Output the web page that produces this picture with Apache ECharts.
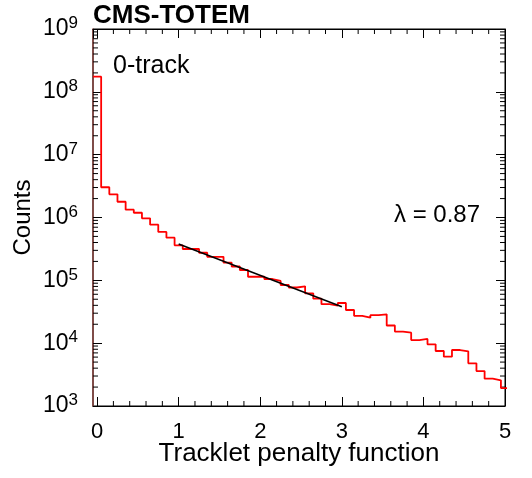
<!DOCTYPE html>
<html>
<head>
<meta charset="utf-8">
<script src="https://cdn.jsdelivr.net/npm/echarts@6/dist/echarts.min.js"></script>
<style>
  html, body { margin: 0; padding: 0; background: #fff; }
  #chart { width: 532px; height: 478px; }
</style>
</head>
<body>
<div id="chart"></div>
<script>
// bin width 0.1, bins centred on 0.0 ... 5.0
const binWidth = 0.1;
const binCenters = Array.from({ length: 51 }, (_, i) => +(i * binWidth).toFixed(2));
const counts = [
  1.74e8, 3.03e6, 2.34e6, 1.78e6, 1.33e6, 1.19e6, 9.7e5, 7.7e5, 5.9e5, 4.77e5,
  3.61e5, 3.15e5, 3.15e5, 2.75e5, 2.37e5, 2.37e5, 1.91e5, 1.66e5, 1.46e5, 1.14e5,
  1.14e5, 1.05e5, 9.76e4, 8.43e4, 7.69e4, 8.03e4, 6.21e4, 5.10e4, 4.17e4, 3.97e4,
  4.36e4, 3.37e4, 2.72e4, 2.54e4, 2.79e4, 2.88e4, 1.91e4, 1.53e4, 1.47e4, 1.12e4,
  1.17e4, 9.59e3, 7.50e3, 6.09e3, 7.78e3, 7.42e3, 4.78e3, 3.60e3, 2.72e3, 2.56e3,
  1.93e3
];
// exponential fit, drawn between its two end points (straight on log axis)
const fitX = [1.0, 3.0];
const fitY = [3.78e5, 3.79e4];

const xTickLabels = ["0", "1", "2", "3", "4", "5"];

// step outline from bin edges
const histData = binCenters.map((c, i) => [+(c - binWidth / 2).toFixed(3), counts[i]]);
histData.push([+(binCenters[binCenters.length - 1] + binWidth / 2).toFixed(3), counts[counts.length - 1]]);

// minor ticks
const xMinor = [];
for (let v = 0.2; v < 5; v += 0.2) {
  if (Math.abs(v - Math.round(v)) > 1e-6) xMinor.push(+v.toFixed(2));
}
const yMinor = [];
for (let e = 3; e < 9; e++) {
  for (let m = 2; m <= 9; m++) yMinor.push(m * Math.pow(10, e));
}

const FONT = "Liberation Sans, Arial, Helvetica, sans-serif";

const myChart = echarts.init(document.getElementById("chart"), null, { renderer: "canvas" });

const axisLineStyle = { color: "#000", width: 1 };

const option = {
  backgroundColor: "#fff",
  animation: false,
  grid: { left: 93, right: 27, top: 29, bottom: 72, show: true, borderColor: "#000", borderWidth: 1 },
  xAxis: [
    {
      type: "value",
      min: -0.05,
      max: 5,
      splitNumber: 5,
      position: "bottom",
      name: "Tracklet penalty function",
      nameLocation: "middle",
      nameGap: 35,
      nameMoveOverlap: false,
      nameTextStyle: { fontFamily: FONT, fontSize: 26, color: "#000" },
      axisLine: { show: true, onZero: false, lineStyle: axisLineStyle },
      axisTick: { show: true, inside: true, length: 9, lineStyle: { color: "#000" } },
      axisLabel: {
        showMinLabel: false,
        margin: 15,
        fontFamily: FONT,
        fontSize: 22,
        color: "#000",
        formatter: (v) => (Math.abs(v - Math.round(v)) < 1e-6 && v >= 0 ? xTickLabels[Math.round(v)] : "")
      },
      splitLine: { show: false }
    },
    {
      type: "value",
      min: -0.05,
      max: 5,
      splitNumber: 5,
      position: "top",
      axisLine: { show: true, onZero: false, lineStyle: axisLineStyle },
      axisTick: { show: true, inside: true, length: 9, lineStyle: { color: "#000" } },
      axisLabel: { show: false },
      splitLine: { show: false }
    }
  ],
  yAxis: [
    {
      type: "log",
      logBase: 10,
      min: 1e3,
      max: 1e9,
      position: "left",
      name: "Counts",
      nameLocation: "middle",
      nameGap: 58,
      nameMoveOverlap: false,
      nameTextStyle: { fontFamily: FONT, fontSize: 24, color: "#000" },
      axisLine: { show: true, onZero: false, lineStyle: { color: "#7f3b36", width: 1.5 } },
      axisTick: { show: true, inside: true, length: 9, lineStyle: { color: "#000" } },
      axisLabel: {
        margin: 15,
        formatter: (v) => "{b|10}{s|" + Math.round(Math.log10(v)) + "}",
        rich: {
          b: { fontFamily: FONT, fontSize: 23, color: "#000", lineHeight: 28 },
          s: { fontFamily: FONT, fontSize: 17, color: "#000", lineHeight: 14, verticalAlign: "top" }
        }
      },
      splitLine: { show: false }
    },
    {
      type: "log",
      logBase: 10,
      min: 1e3,
      max: 1e9,
      position: "right",
      axisLine: { show: true, onZero: false, lineStyle: axisLineStyle },
      axisTick: { show: true, inside: true, length: 9, lineStyle: { color: "#000" } },
      axisLabel: { show: false },
      splitLine: { show: false }
    }
  ],
  graphic: [
    { type: "text", left: 93, top: 3, style: { text: "CMS-TOTEM", font: "bold 26px " + FONT, fill: "#000" } },
    { type: "text", x: 113, y: 66, style: { text: "0-track", font: "25px " + FONT, fill: "#000", textVerticalAlign: "middle" } },
    { type: "text", x: 394, y: 215, style: { text: "λ = 0.87", font: "24px " + FONT, fill: "#000", textVerticalAlign: "middle" } }
  ],
  series: [
    {
      name: "0-track",
      type: "line",
      step: "end",
      data: histData,
      showSymbol: false,
      symbol: "none",
      lineStyle: { color: "#ff0000", width: 1.8 },
      z: 3
    },
    {
      name: "fit",
      type: "line",
      data: fitX.map((x, i) => [x, fitY[i]]),
      symbol: "none",
      lineStyle: { color: "#000", width: 1.5 },
      z: 4
    },
    {
      name: "xminor",
      type: "custom",
      clip: false,
      silent: true,
      data: xMinor.map((v) => [v, 1e3]),
      renderItem: (params, api) => {
        const cs = params.coordSys;
        const p = api.coord([api.value(0), 1e3]);
        return {
          type: "group",
          children: [
            { type: "line", shape: { x1: p[0], y1: cs.y + cs.height, x2: p[0], y2: cs.y + cs.height - 5 }, style: { stroke: "#000", lineWidth: 1 } },
            { type: "line", shape: { x1: p[0], y1: cs.y, x2: p[0], y2: cs.y + 5 }, style: { stroke: "#000", lineWidth: 1 } }
          ]
        };
      }
    },
    {
      name: "yminor",
      type: "custom",
      clip: false,
      silent: true,
      data: yMinor.map((v) => [0, v]),
      renderItem: (params, api) => {
        const cs = params.coordSys;
        const p = api.coord([0, api.value(1)]);
        return {
          type: "group",
          children: [
            { type: "line", shape: { x1: cs.x, y1: p[1], x2: cs.x + 5, y2: p[1] }, style: { stroke: "#000", lineWidth: 1 } },
            { type: "line", shape: { x1: cs.x + cs.width, y1: p[1], x2: cs.x + cs.width - 5, y2: p[1] }, style: { stroke: "#000", lineWidth: 1 } }
          ]
        };
      }
    }
  ]
};

myChart.setOption(option);
</script>
</body>
</html>
